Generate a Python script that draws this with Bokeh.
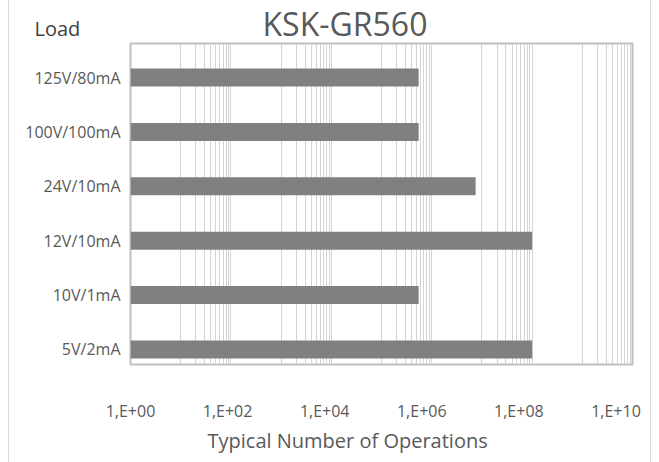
from bokeh.plotting import figure
from bokeh.models import Range1d, LogAxis, LogScale, FixedTicker, Grid, Label, Title
from bokeh.embed import file_html
from bokeh.resources import INLINE

# ---- data ----
loads = ["125V/80mA", "100V/100mA", "24V/10mA", "12V/10mA", "10V/1mA", "5V/2mA"]
operations = [5.5e5, 5.5e5, 7.5e6, 1.0e8, 5.5e5, 1.0e8]
x_ticks = [1, 100, 10**4, 10**6, 10**8, 10**10]
x_tick_labels = ["1,E+00", "1,E+02", "1,E+04", "1,E+06", "1,E+08", "1,E+10"]
chart_title = "KSK-GR560"
y_title = "Load"
x_title = "Typical Number of Operations"

TEXT = "#595959"
BAR = "#808080"
GRID = "#d4d4d4"
FONT = "Open Sans"

n = len(loads)
ypos = [n - 1 - i for i in range(n)]

# gridlines: every decade boundary of base 100 plus 1..9 x 10^odd
grid_ticks = [10 ** k for k in range(0, 11, 2)]
for k in range(1, 10, 2):
    grid_ticks += [m * 10 ** k for m in range(1, 10)]
grid_ticks = sorted(grid_ticks)

p = figure(
    width=643, height=462,
    x_axis_type="log",
    x_range=Range1d(1, 1e10),
    y_range=Range1d(-0.277, n - 1 + 0.627),
    x_axis_location=None,
    output_backend="svg",
    toolbar_location=None,
    min_border_left=121, min_border_right=20,
    min_border_top=43, min_border_bottom=98,
    styles={"margin-left": "8px",
            "border-left": "1px solid #d9d9d9",
            "border-right": "1px solid #d9d9d9"},
)
p.background_fill_color = "white"
p.border_fill_color = "white"
p.outline_line_color = "#bfbfbf"
p.outline_line_width = 2

# main title
p.title.text = chart_title
p.title.align = "left"
p.title.offset = 132
p.title.vertical_align = "bottom"
p.title.standoff = -3
p.title.text_font = FONT
p.title.text_font_style = "normal"
p.title.text_font_size = "32px"
p.title.text_color = TEXT

for g in p.grid:
    g.grid_line_color = None

xg = Grid(dimension=0, ticker=FixedTicker(ticks=grid_ticks),
          grid_line_color=GRID, grid_line_width=1)
p.add_layout(xg, "center")

p.hbar(y=ypos, left=1, right=operations, height=0.33,
       fill_color=BAR, line_color=None)

# y axis (categories)
ya = p.yaxis[0]
ya.ticker = FixedTicker(ticks=ypos)
ya.major_label_overrides = {y: lab for y, lab in zip(ypos, loads)}
ya.axis_line_color = None
ya.major_tick_line_color = None
ya.minor_tick_line_color = None
ya.major_tick_out = 0
ya.major_tick_in = 0
ya.minor_tick_out = 0
ya.major_label_standoff = 10
ya.major_label_text_font = FONT
ya.major_label_text_font_size = "16px"
ya.major_label_text_color = TEXT

# x axis labels (placed as in the reference)
p.extra_x_ranges = {"lab": Range1d(1, 10 ** 10.34)}
p.extra_x_scales = {"lab": LogScale()}
xa = LogAxis(x_range_name="lab", ticker=FixedTicker(ticks=x_ticks))
xa.major_label_overrides = {t: lab for t, lab in zip(x_ticks, x_tick_labels)}
xa.axis_line_color = None
xa.major_tick_line_color = None
xa.minor_tick_line_color = None
xa.major_tick_out = 0
xa.major_tick_in = 0
xa.minor_tick_out = 0
xa.major_label_standoff = 35
xa.major_label_text_font = FONT
xa.major_label_text_font_size = "16px"
xa.major_label_text_color = TEXT
p.add_layout(xa, "below")

# y axis title ("Load"), positioned from its panel
p.add_layout(Label(x=-96, y=423, x_units="screen", y_units="screen",
                   text=y_title, text_align="left", text_baseline="middle",
                   text_font=FONT, text_font_size="20px", text_color="#404040"),
             "below")

# x axis title
p.add_layout(Title(text=x_title, align="left", offset=77, vertical_align="top",
                   standoff=-50, text_font=FONT, text_font_style="normal",
                   text_font_size="20px", text_color=TEXT), "below")

open("out.html", "w").write(file_html(p, INLINE))
